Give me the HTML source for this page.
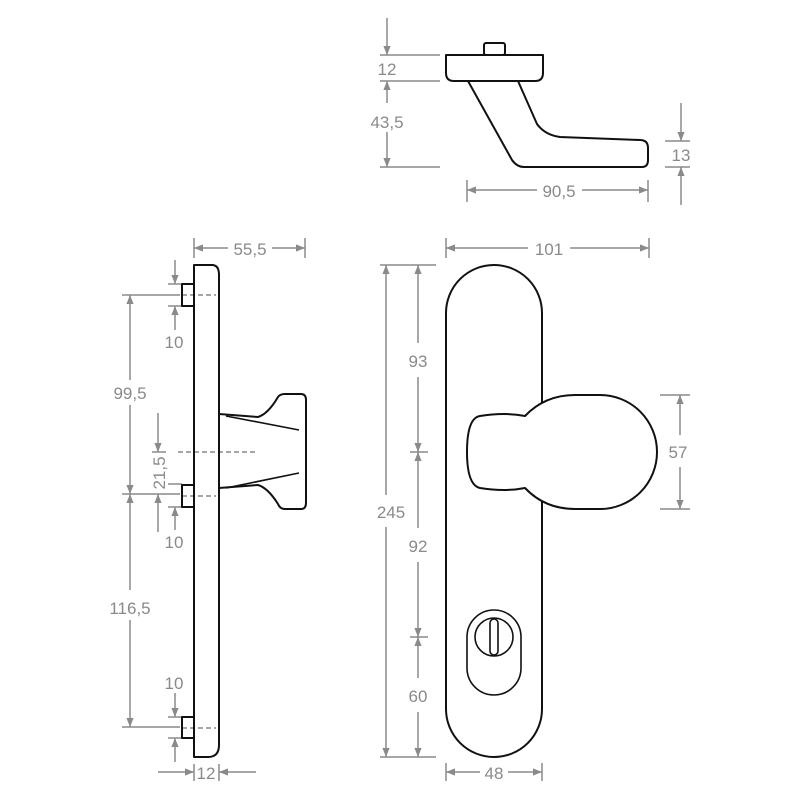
<!DOCTYPE html>
<html><head><style>
html,body{margin:0;padding:0;background:#fff;}
svg{display:block;}
text{font-family:"Liberation Sans",sans-serif;font-size:17px;fill:#8a8a8a;}
</style></head><body>
<svg width="800" height="800" viewBox="0 0 800 800" xmlns="http://www.w3.org/2000/svg">
<defs>
<marker id="a" viewBox="0 0 10 10" refX="10" refY="5" markerWidth="16" markerHeight="9" orient="auto-start-reverse" markerUnits="userSpaceOnUse">
<path d="M0,1 L10,5 L0,9 z" fill="#8a8a8a"/>
</marker>
</defs>
<g stroke="#8a8a8a" stroke-width="1.5" fill="none">
<line x1="380" y1="55" x2="440" y2="55"/>
<line x1="380" y1="81" x2="440" y2="81"/>
<line x1="380" y1="167" x2="440" y2="167"/>
<line x1="387" y1="18" x2="387" y2="55" marker-end="url(#a)"/>
<line x1="387" y1="103" x2="387" y2="81" marker-end="url(#a)"/>
<line x1="387" y1="132" x2="387" y2="167" marker-end="url(#a)"/>
<line x1="665" y1="141" x2="690" y2="141"/>
<line x1="665" y1="167" x2="690" y2="167"/>
<line x1="681" y1="103" x2="681" y2="141" marker-end="url(#a)"/>
<line x1="681" y1="205" x2="681" y2="167" marker-end="url(#a)"/>
<line x1="467" y1="180" x2="467" y2="202"/>
<line x1="648" y1="180" x2="648" y2="202"/>
<line x1="537" y1="190" x2="467" y2="190" marker-end="url(#a)"/>
<line x1="582" y1="190" x2="648" y2="190" marker-end="url(#a)"/>
<line x1="194" y1="238" x2="194" y2="258"/>
<line x1="305" y1="238" x2="305" y2="258"/>
<line x1="228" y1="248" x2="194" y2="248" marker-end="url(#a)"/>
<line x1="272" y1="248" x2="305" y2="248" marker-end="url(#a)"/>
<line x1="122" y1="295" x2="180" y2="295"/>
<line x1="122" y1="494" x2="180" y2="494"/>
<line x1="122" y1="727" x2="180" y2="727"/>
<line x1="130" y1="380" x2="130" y2="295" marker-end="url(#a)"/>
<line x1="130" y1="405" x2="130" y2="494" marker-end="url(#a)"/>
<line x1="130" y1="590" x2="130" y2="494" marker-end="url(#a)"/>
<line x1="130" y1="620" x2="130" y2="727" marker-end="url(#a)"/>
<line x1="168" y1="284" x2="182" y2="284"/>
<line x1="168" y1="306" x2="182" y2="306"/>
<line x1="175" y1="260" x2="175" y2="284" marker-end="url(#a)"/>
<line x1="175" y1="330" x2="175" y2="306" marker-end="url(#a)"/>
<line x1="168" y1="484" x2="182" y2="484"/>
<line x1="168" y1="507" x2="182" y2="507"/>
<line x1="175" y1="530" x2="175" y2="507" marker-end="url(#a)"/>
<line x1="168" y1="717" x2="182" y2="717"/>
<line x1="168" y1="738" x2="182" y2="738"/>
<line x1="175" y1="693" x2="175" y2="717" marker-end="url(#a)"/>
<line x1="175" y1="762" x2="175" y2="738" marker-end="url(#a)"/>
<line x1="152" y1="452" x2="166" y2="452"/>
<line x1="158" y1="413" x2="158" y2="452" marker-end="url(#a)"/>
<line x1="158" y1="532" x2="158" y2="494" marker-end="url(#a)"/>
<line x1="194" y1="764" x2="194" y2="781"/>
<line x1="219" y1="764" x2="219" y2="781"/>
<line x1="158" y1="772" x2="194" y2="772" marker-end="url(#a)"/>
<line x1="256" y1="772" x2="219" y2="772" marker-end="url(#a)"/>
<line x1="446" y1="238" x2="446" y2="258"/>
<line x1="649" y1="238" x2="649" y2="258"/>
<line x1="528" y1="248" x2="446" y2="248" marker-end="url(#a)"/>
<line x1="570" y1="248" x2="649" y2="248" marker-end="url(#a)"/>
<line x1="380" y1="265" x2="436" y2="265"/>
<line x1="380" y1="757" x2="436" y2="757"/>
<line x1="386" y1="495" x2="386" y2="265" marker-end="url(#a)"/>
<line x1="386" y1="527" x2="386" y2="757" marker-end="url(#a)"/>
<line x1="418" y1="343" x2="418" y2="265" marker-end="url(#a)"/>
<line x1="418" y1="377" x2="418" y2="452" marker-end="url(#a)"/>
<line x1="410" y1="452" x2="428" y2="452"/>
<line x1="418" y1="528" x2="418" y2="452" marker-end="url(#a)"/>
<line x1="418" y1="562" x2="418" y2="637" marker-end="url(#a)"/>
<line x1="410" y1="637" x2="428" y2="637"/>
<line x1="418" y1="678" x2="418" y2="637" marker-end="url(#a)"/>
<line x1="418" y1="712" x2="418" y2="757" marker-end="url(#a)"/>
<line x1="660" y1="395" x2="690" y2="395"/>
<line x1="660" y1="509" x2="690" y2="509"/>
<line x1="680" y1="435" x2="680" y2="395" marker-end="url(#a)"/>
<line x1="680" y1="467" x2="680" y2="509" marker-end="url(#a)"/>
<line x1="446" y1="763" x2="446" y2="781"/>
<line x1="542" y1="763" x2="542" y2="781"/>
<line x1="480" y1="772" x2="446" y2="772" marker-end="url(#a)"/>
<line x1="508" y1="772" x2="542" y2="772" marker-end="url(#a)"/>
<g stroke-dasharray="5,3">
<line x1="182" y1="295" x2="216" y2="295"/>
<line x1="182" y1="496" x2="216" y2="496"/>
<line x1="182" y1="728" x2="216" y2="728"/>
<line x1="178" y1="452" x2="258" y2="452"/>
</g>
</g>
<g fill="#8a8a8a" text-anchor="middle">
<text x="387" y="75">12</text>
<text x="387" y="128">43,5</text>
<text x="681" y="161">13</text>
<text x="559" y="197">90,5</text>
<text x="250" y="255">55,5</text>
<text x="130" y="399">99,5</text>
<text x="130" y="614">116,5</text>
<text x="174" y="348">10</text>
<text x="174" y="548">10</text>
<text x="174" y="689">10</text>
<text x="206" y="779">12</text>
<text x="549" y="255">101</text>
<text x="418" y="367">93</text>
<text x="418" y="552">92</text>
<text x="418" y="702">60</text>
<text x="391" y="518">245</text>
<text x="678" y="458">57</text>
<text x="494" y="779">48</text>
<text x="0" y="0" transform="translate(165,473) rotate(-90)">21,5</text>
</g>
<g stroke="#111" stroke-width="2" fill="#fff" stroke-linejoin="round">
<path d="M468,81 L512,160 Q517,167 524,167 H642 Q648,167 648,160 V148 Q648,140 640,140 L560,137 Q545,135 537,124 L518,81"/>
<rect x="484" y="43" width="21" height="12" rx="2"/>
<path d="M446,55 H543 V73 Q543,81 535,81 H454 Q446,81 446,73 Z"/>
<rect x="182" y="284" width="12" height="22" fill="none"/>
<rect x="182" y="485" width="12" height="22" fill="none"/>
<rect x="182" y="717" width="12" height="21" fill="none"/>
<path d="M194,265 H212 Q219,265 219,275 V745 Q219,757 208,757 H194 Z" fill="none"/>
<path d="M219,414 L258,417 Q268,414 278,397 Q280,394 285,394 H301 Q306,394 306,400 V503 Q306,509 301,509 H285 Q280,509 278,504 Q268,488 258,485 L219,488" fill="none"/>
<path d="M226,416 L299,430 M226,488 L299,473" fill="none" stroke-width="1.6"/>
<path d="M446,313 A48,48 0 0 1 542,313 V709 A48,48 0 0 1 446,709 Z"/>
<path d="M525,416 Q545,395 575,395 H600 A57,57 0 0 1 600,509 H575 Q545,509 525,488 Q505,492 480,488 Q467,485 467,452 Q467,418 480,416 Q505,412 525,416 Z"/>
<rect x="467" y="610" width="54" height="85" rx="27" stroke-width="1.6"/>
<circle cx="494" cy="637" r="19" stroke-width="1.6"/>
<rect x="490" y="619" width="8" height="36" rx="4" stroke-width="1.6"/>
</g>
</svg>
</body></html>
